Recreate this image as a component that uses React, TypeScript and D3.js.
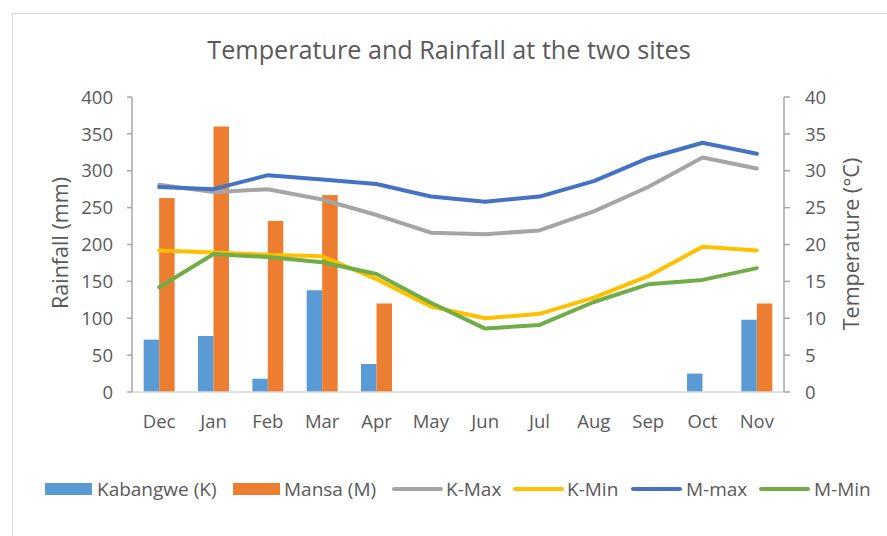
import React from 'react';
import * as d3 from 'd3';

const months = ['Dec', 'Jan', 'Feb', 'Mar', 'Apr', 'May', 'Jun', 'Jul', 'Aug', 'Sep', 'Oct', 'Nov'];

// rainfall (mm)
const kabangwe = [71, 76, 18, 138, 38, 0, 0, 0, 0, 0, 25, 98];
const mansa = [263, 360, 232, 267, 120, 0, 0, 0, 0, 0, 0, 120];

// temperature (°C)
const kMax = [28.1, 27.1, 27.5, 26.1, 24.0, 21.6, 21.4, 21.9, 24.5, 27.8, 31.8, 30.3];
const kMin = [19.2, 18.9, 18.6, 18.4, 15.3, 11.6, 10.0, 10.6, 12.8, 15.7, 19.7, 19.2];
const mMax = [27.8, 27.5, 29.4, 28.8, 28.2, 26.5, 25.8, 26.5, 28.6, 31.7, 33.8, 32.3];
const mMin = [14.2, 18.7, 18.3, 17.6, 16.0, 12.1, 8.6, 9.1, 12.2, 14.6, 15.2, 16.8];

const rainTicks = [0, 50, 100, 150, 200, 250, 300, 350, 400];
const tempTicks = [0, 5, 10, 15, 20, 25, 30, 35, 40];

const barSeries = [
  { name: 'Kabangwe (K)', values: kabangwe, color: '#5b9bd5' },
  { name: 'Mansa (M)', values: mansa, color: '#ed7d31' },
];
const lineSeries = [
  { name: 'K-Max', values: kMax, color: '#a5a5a5' },
  { name: 'K-Min', values: kMin, color: '#ffc000' },
  { name: 'M-max', values: mMax, color: '#4472c4' },
  { name: 'M-Min', values: mMin, color: '#70ad47' },
];

const font = '"Open Sans", sans-serif';
const textColor = '#595959';

export default function App() {
  const left = 132, right = 784, top = 97, bottom = 392;

  const x = d3.scaleBand<string>().domain(months).range([left, right]);
  const yRain = d3.scaleLinear().domain([0, 400]).range([bottom, top]);
  const yTemp = d3.scaleLinear().domain([0, 40]).range([bottom, top]);

  const bw = x.bandwidth();
  const barW = bw * 0.285;
  const groupW = barW * 2;

  const line = (vals: number[]) =>
    d3.line<number>()
      .x((_, i) => (x(months[i]) as number) + bw / 2)
      .y(d => yTemp(d))(vals) as string;

  // legend layout
  const legendY = 489;
  const legendItems = [
    { kind: 'bar', ...barSeries[0], x: 45, tx: 97 },
    { kind: 'bar', ...barSeries[1], x: 233, tx: 284 },
    { kind: 'line', ...lineSeries[0], x: 392, tx: 446 },
    { kind: 'line', ...lineSeries[1], x: 513, tx: 567 },
    { kind: 'line', ...lineSeries[2], x: 631, tx: 686 },
    { kind: 'line', ...lineSeries[3], x: 759, tx: 814 },
  ];

  return (
    <svg width={887} height={536} style={{ position: 'absolute', left: 0, top: 0 }} fontFamily={font}>
      <rect x={0} y={0} width={887} height={536} fill="#fff" />
      <rect x={12.5} y={13.5} width={900} height={600} fill="none" stroke="#d9d9d9" />

      <text x={449} y={59} textAnchor="middle" fontSize={25.2} fill={textColor}>
        Temperature and Rainfall at the two sites
      </text>

      {/* bars */}
      {barSeries.map((s, si) => (
        <g key={s.name}>
          {s.values.map((v, i) => (
            <rect
              key={i}
              x={(x(months[i]) as number) + (bw - groupW) / 2 + si * barW}
              y={yRain(v)}
              width={barW}
              height={bottom - yRain(v)}
              fill={s.color}
            />
          ))}
        </g>
      ))}

      {/* bottom axis */}
      <line x1={left} x2={right} y1={bottom} y2={bottom} stroke="#d9d9d9" strokeWidth={1.5} />
      {months.map(m => (
        <text key={m} x={(x(m) as number) + bw / 2} y={428} textAnchor="middle" fontSize={18.5} fill={textColor}>
          {m}
        </text>
      ))}

      {/* left axis */}
      <line x1={left} x2={left} y1={top} y2={bottom} stroke="#a6a6a6" strokeWidth={1.5} />
      {rainTicks.map(t => (
        <g key={t}>
          <line x1={left - 5} x2={left} y1={yRain(t)} y2={yRain(t)} stroke="#a6a6a6" strokeWidth={1.5} />
          <text x={113} y={yRain(t)} dy="0.36em" textAnchor="end" fontSize={18.5} fill={textColor}>
            {t}
          </text>
        </g>
      ))}
      <text transform={`translate(67.5,243) rotate(-90)`} textAnchor="middle" fontSize={21.5} fill={textColor}>
        Rainfall (mm)
      </text>

      {/* right axis */}
      <line x1={right} x2={right} y1={top} y2={bottom} stroke="#a6a6a6" strokeWidth={1.5} />
      {tempTicks.map(t => (
        <g key={t}>
          <line x1={right} x2={right + 6} y1={yTemp(t)} y2={yTemp(t)} stroke="#a6a6a6" strokeWidth={1.5} />
          <text x={805} y={yTemp(t)} dy="0.36em" textAnchor="start" fontSize={18.5} fill={textColor}>
            {t}
          </text>
        </g>
      ))}
      <text transform={`translate(858.5,244) rotate(-90)`} textAnchor="middle" fontSize={21.5} fill={textColor}>
        Temperature (°C)
      </text>

      {/* lines */}
      {lineSeries.map(s => (
        <path key={s.name} d={line(s.values)} fill="none" stroke={s.color} strokeWidth={4}
          strokeLinecap="round" strokeLinejoin="round" />
      ))}

      {/* legend */}
      {legendItems.map(it => (
        <g key={it.name}>
          {it.kind === 'bar' ? (
            <rect x={it.x} y={legendY - 6} width={47} height={12} fill={it.color} />
          ) : (
            <line x1={it.x + 2} x2={it.x + 49} y1={legendY} y2={legendY} stroke={it.color}
              strokeWidth={4} strokeLinecap="round" />
          )}
          <text x={it.tx} y={legendY} dy="0.36em" fontSize={19} fill={textColor}>
            {it.name}
          </text>
        </g>
      ))}
    </svg>
  );
}
